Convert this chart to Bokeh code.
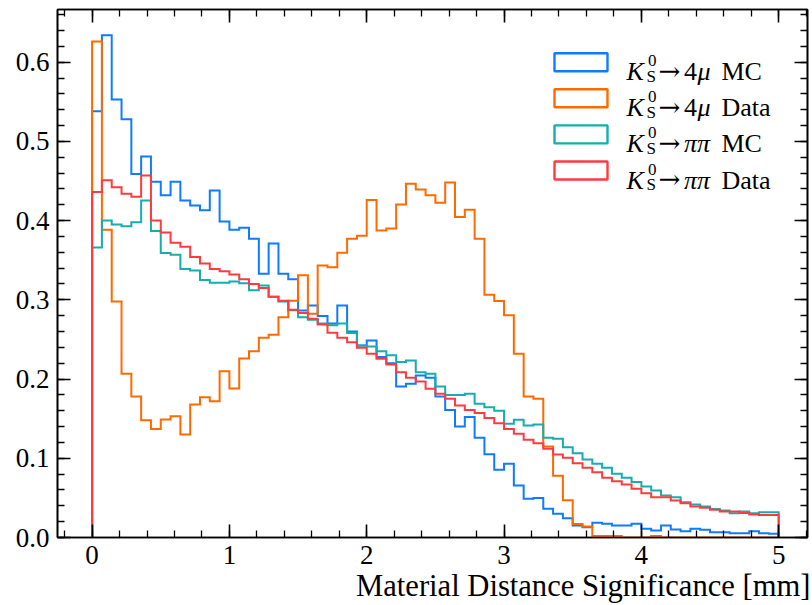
import numpy as np
from bokeh.plotting import figure
from bokeh.models import (Range1d, SingleIntervalTicker, PrintfTickFormatter,
                          CustomJSTickFormatter, LinearAxis, Label, BoxAnnotation, Title)
from bokeh.embed import file_html
from bokeh.resources import INLINE

# ---------------- data ----------------
x_min, x_max, n_bins = 0.0, 5.0, 70

mc_4mu = [0.538, 0.634, 0.553, 0.528, 0.459, 0.481, 0.449, 0.432, 0.449, 0.4255,
          0.419, 0.413, 0.438, 0.399, 0.3885, 0.391, 0.377, 0.333, 0.371, 0.333,
          0.326, 0.2866, 0.293, 0.2795, 0.270, 0.293, 0.260, 0.2424, 0.2487, 0.2277,
          0.220, 0.1907, 0.194, 0.2045, 0.2016, 0.178, 0.161, 0.140, 0.152, 0.126,
          0.105, 0.0855, 0.093, 0.0657, 0.0489, 0.050, 0.0362, 0.030, 0.0244, 0.015,
          0.013, 0.0186, 0.0173, 0.015, 0.015, 0.0173, 0.011, 0.0088, 0.015, 0.010,
          0.008, 0.011, 0.0097, 0.0067, 0.0067, 0.0055, 0.0055, 0.008, 0.0055, 0.0046]

data_4mu = [0.626, 0.3885, 0.298, 0.2067, 0.178, 0.148, 0.137, 0.149, 0.153, 0.130,
            0.168, 0.177, 0.172, 0.210, 0.188, 0.226, 0.235, 0.252, 0.256, 0.278,
            0.299, 0.331, 0.2825, 0.3434, 0.341, 0.3594, 0.377, 0.381, 0.426, 0.3876,
            0.390, 0.4205, 0.4466, 0.4394, 0.432, 0.4226, 0.448, 0.4045, 0.4138, 0.377,
            0.3064, 0.2984, 0.2807, 0.232, 0.178, 0.175, 0.115, 0.078, 0.047, 0.017,
            0.014, 0.002, 0.002, 0.002, 0.0, 0.0, 0.0, 0.002, 0.0, 0.0,
            0.0, 0.0, 0.0, 0.0, 0.0, 0.0, 0.0, 0.0, 0.0, 0.0]

mc_pipi = [0.366, 0.400, 0.395, 0.393, 0.398, 0.4255, 0.387, 0.359, 0.357, 0.339,
           0.337, 0.325, 0.3215, 0.3215, 0.323, 0.321, 0.312, 0.318, 0.304, 0.298,
           0.287, 0.278, 0.275, 0.270, 0.268, 0.270, 0.258, 0.2424, 0.241, 0.235,
           0.230, 0.2214, 0.2235, 0.2087, 0.2067, 0.1907, 0.180, 0.180, 0.1814, 0.1688,
           0.1645, 0.160, 0.1435, 0.1486, 0.1414, 0.1427, 0.126, 0.1246, 0.114, 0.1065,
           0.0985, 0.093, 0.088, 0.0804, 0.0754, 0.070, 0.0644, 0.0593, 0.053, 0.0509,
           0.0446, 0.0417, 0.039, 0.036, 0.034, 0.0307, 0.0328, 0.0307, 0.032, 0.032]

data_pipi = [0.436, 0.451, 0.442, 0.434, 0.430, 0.457, 0.400, 0.385, 0.372, 0.367,
             0.354, 0.346, 0.339, 0.336, 0.332, 0.326, 0.320, 0.315, 0.304, 0.299,
             0.2875, 0.2835, 0.276, 0.269, 0.2585, 0.252, 0.2466, 0.2395, 0.232, 0.2256,
             0.2184, 0.2087, 0.2016, 0.197, 0.1877, 0.1814, 0.175, 0.1667, 0.161, 0.157,
             0.151, 0.1443, 0.137, 0.131, 0.1234, 0.119, 0.112, 0.1048, 0.1006, 0.0938,
             0.088, 0.0825, 0.0754, 0.071, 0.067, 0.0615, 0.056, 0.0509, 0.0509, 0.0467,
             0.0433, 0.039, 0.0375, 0.035, 0.0328, 0.0328, 0.031, 0.029, 0.0285, 0.0285]

series = [mc_4mu, data_4mu, mc_pipi, data_pipi]
legend_num = ["4", "4", "", ""]
legend_sym = ["\u03bc", "\u03bc", "\u03c0\u03c0", "\u03c0\u03c0"]
legend_sample = ["MC", "Data", "MC", "Data"]
colors = ["#0f7bff", "#ff6a00", "#17adad", "#ff3b3f"]

x_label = "Material Distance Significance [mm]"

# ---------------- layout ----------------
FIG_W, FIG_H = 812, 605
B_L, B_R, B_T, B_B = 57, 5, 9, 68
X0, X1 = -0.252, 5.21
Y0, Y1 = 0.0, 0.6665
FONT = "Liberation Serif"

frame_w = FIG_W - B_L - B_R
frame_h = FIG_H - B_T - B_B


def px_x(px):
    return X0 + (px - B_L) / frame_w * (X1 - X0)


def px_y(py):
    return Y0 + (FIG_H - B_B - py) / frame_h * (Y1 - Y0)


p = figure(width=FIG_W, height=FIG_H, x_range=Range1d(X0, X1), y_range=Range1d(Y0, Y1),
           output_backend="svg", toolbar_location=None,
           min_border_left=B_L, min_border_right=B_R, min_border_top=B_T,
           min_border_bottom=B_B, x_axis_type=None, y_axis_type=None)
p.grid.visible = False
p.outline_line_color = "black"
p.outline_line_width = 1.6
p.background_fill_color = "white"
p.border_fill_color = "white"


def style_axis(ax, show_labels, fmt):
    ax.axis_line_color = "black"
    ax.axis_line_width = 1.6
    ax.major_tick_in = 13
    ax.major_tick_out = 0
    ax.minor_tick_in = 7
    ax.minor_tick_out = 0
    ax.major_tick_line_width = 1.6
    ax.minor_tick_line_width = 1.3
    ax.major_tick_line_color = "black"
    ax.minor_tick_line_color = "black"
    ax.major_label_text_font = FONT
    if show_labels:
        ax.formatter = PrintfTickFormatter(format=fmt)
        ax.major_label_text_color = "black"
        ax.major_label_text_font_size = "27px"
        ax.major_label_standoff = 8
    else:
        ax.formatter = CustomJSTickFormatter(code="return ''")
        ax.major_label_text_color = None
        ax.major_label_text_font_size = "1px"
        ax.major_label_standoff = 0


for loc in ["below", "above"]:
    ax = LinearAxis(ticker=SingleIntervalTicker(interval=1, num_minor_ticks=5))
    style_axis(ax, loc == "below", "%d")
    p.add_layout(ax, loc)
for loc in ["left", "right"]:
    ax = LinearAxis(ticker=SingleIntervalTicker(interval=0.1, num_minor_ticks=5))
    style_axis(ax, loc == "left", "%.1f")
    p.add_layout(ax, loc)

# x label, right aligned under the axis
p.add_layout(Title(text=x_label, align="right", text_font=FONT, text_font_size="30.6px",
                   text_font_style="normal", text_color="black", standoff=0,
                   offset=-3), "below")

# ---------------- step histograms ----------------
edges = np.linspace(x_min, x_max, n_bins + 1)
for vals, col in zip(series, colors):
    v = np.asarray(vals, dtype=float)
    xs = np.repeat(edges, 2)
    ys = np.concatenate([[0.0], np.repeat(v, 2), [0.0]])
    p.line(xs, ys, line_color=col, line_width=2.0, line_join="miter")

# ---------------- legend ----------------
row0, row_step = 61.7, 36.1


def lab(txt, px, py, size, style="normal", font=FONT):
    p.add_layout(Label(x=px_x(px), y=px_y(py), text=txt, text_font=font,
                       text_font_size=size, text_font_style=style,
                       text_color="black", text_baseline="alphabetic",
                       text_align="left"))


for i, col in enumerate(colors):
    cy = row0 + i * row_step
    p.add_layout(BoxAnnotation(left=px_x(554), right=px_x(607),
                               top=px_y(cy - 9.0), bottom=px_y(cy + 9.0),
                               fill_alpha=0, line_alpha=1.0, line_color=col,
                               line_width=2.4, level="overlay"))
    base = cy + 9.5
    lab("K", 626, base, "26px", "italic")
    lab("0", 647.5, base - 11, "17px")
    lab("S", 646, base + 4.5, "17px")
    lab("\u2192", 658, base - 1, "26px", font="DejaVu Serif")
    if legend_num[i]:
        lab(legend_num[i], 683.5, base, "26px")
        lab(legend_sym[i], 697, base, "26px", "italic")
    else:
        lab(legend_sym[i], 683.5, base, "26px", "italic")
    lab(legend_sample[i], 721, base, "26px")

open("out.html", "w").write(file_html(p, INLINE))
